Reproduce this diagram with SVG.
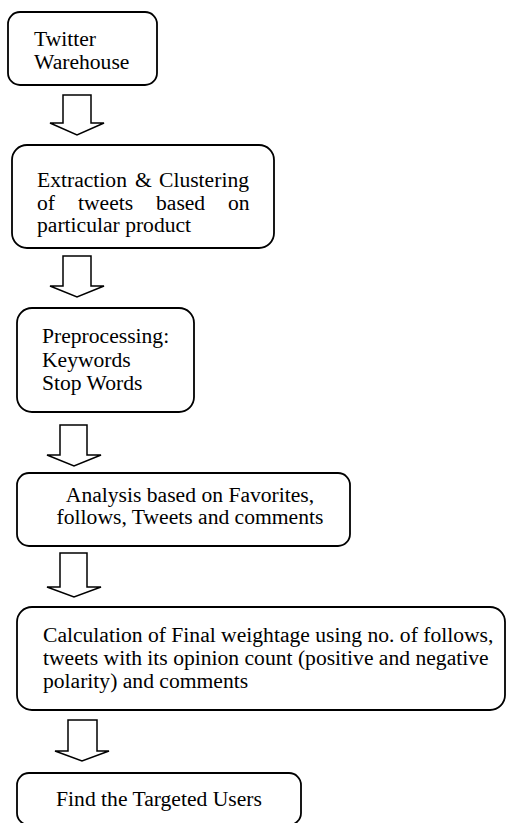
<svg xmlns="http://www.w3.org/2000/svg" width="507" height="823" viewBox="0 0 507 823">
<style>
.box{fill:#fff;stroke:#000;stroke-width:1.8}
.arr{fill:#fff;stroke:#000;stroke-width:1.5;stroke-linejoin:miter}
text{font-family:"Liberation Serif","Times New Roman",serif;font-size:21.6px;fill:#000}
.c{text-anchor:middle}
</style>
<rect width="507" height="823" fill="#fff"/>
<g id="connectors">
<polygon class="arr" points="63,95 91,95 91,123 104,123 77,135 50,123 63,123"/>
<polygon class="arr" points="63,256 91,256 91,286 104,286 77,297 50,286 63,286"/>
<polygon class="arr" points="60,425 87,425 87,455 101,455 74,466 47,455 60,455"/>
<polygon class="arr" points="60,553 87,553 87,587 101,587 74,597 47,587 60,587"/>
<polygon class="arr" points="68,720 97,720 97,751 109,751 82,761 55,751 68,751"/>
</g>
<g id="n1">
<rect class="box" x="8" y="12" width="149" height="73" rx="12"/>
<text x="34" y="46">Twitter<tspan x="34" dy="22.5">Warehouse</tspan></text>
</g>
<g id="n2">
<rect class="box" x="12" y="145" width="262" height="103" rx="15"/>
<text y="187"><tspan x="37">Extraction</tspan><tspan x="135">&amp;</tspan><tspan x="159">Clustering</tspan></text>
<text y="210"><tspan x="37">of</tspan><tspan x="78">tweets</tspan><tspan x="156">based</tspan><tspan x="228">on</tspan></text>
<text x="37" y="232">particular product</text>
</g>
<g id="n3">
<rect class="box" x="17" y="308" width="177" height="104" rx="15"/>
<text x="42" y="343">Preprocessing:<tspan x="42" dy="24">Keywords</tspan><tspan x="42" dy="23">Stop Words</tspan></text>
</g>
<g id="n4">
<rect class="box" x="17" y="473" width="333" height="73" rx="12"/>
<text class="c" x="190" y="502">Analysis based on Favorites,<tspan x="190" dy="22">follows, Tweets and comments</tspan></text>
</g>
<g id="n5">
<rect class="box" x="17" y="607" width="488" height="103" rx="15"/>
<text x="43" y="642">Calculation of Final weightage using no. of follows,<tspan x="43" dy="23">tweets with its opinion count (positive and negative</tspan><tspan x="43" dy="23">polarity) and comments</tspan></text>
</g>
<g id="n6">
<rect class="box" x="17" y="773" width="284" height="52" rx="12"/>
<text class="c" x="159" y="806">Find the Targeted Users</text>
</g>
</svg>
